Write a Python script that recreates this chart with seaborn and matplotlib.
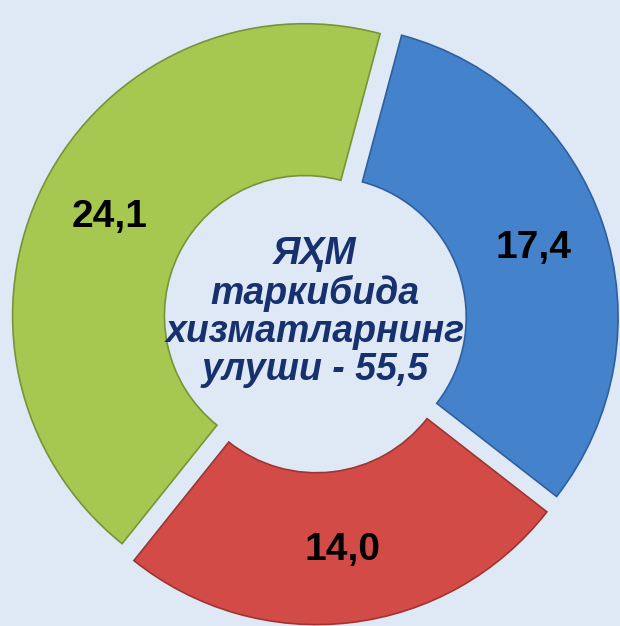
import matplotlib
matplotlib.use("Agg")
import matplotlib.pyplot as plt
import seaborn as sns

# share of services in GDP, by sector
values = [17.4, 14.0, 24.1]
slice_colors = ["#4582CC", "#D24B47", "#A6C850"]
edge_colors = ["#2F5F9E", "#9E3532", "#76943A"]
center_text = "ЯҲМ\nтаркибида\nхизматларнинг\nулуши - 55,5"

sns.set_style("white")
plt.rcParams["font.family"] = ["Liberation Sans", "DejaVu Sans"]

bg = "#DEE9F5"
fig = plt.figure(figsize=(6.2, 6.26), dpi=100, facecolor=bg)
ax = fig.add_axes([0, 0, 1, 1])
ax.set_facecolor(bg)

total = sum(values)

def fmt(pct):
    return ("%.1f" % (pct * total / 100)).replace(".", ",")

wedges, texts, autotexts = ax.pie(
    values,
    colors=slice_colors,
    startangle=75,
    counterclock=False,
    explode=[0.04] * len(values),
    radius=1.0,
    autopct=fmt,
    pctdistance=0.75,
    wedgeprops=dict(width=0.52, linewidth=1.2),
    textprops=dict(fontsize=28, fontweight="bold", color="black"),
)
for w, ec in zip(wedges, edge_colors):
    w.set_edgecolor(ec)

ax.text(0, 0.03, center_text, ha="center", va="center", fontsize=27,
        fontweight="bold", fontstyle="italic", color="#17306E", linespacing=1.08)

# keep the donut centred where it sits in the picture
px = 292.0
cx, cy = 315, 321
ax.set_xlim(-cx / px, (620 - cx) / px)
ax.set_ylim(-(626 - cy) / px, cy / px)
ax.set_aspect("auto")
ax.axis("off")

fig.savefig("out.png", dpi=100, facecolor=bg)
plt.close()
